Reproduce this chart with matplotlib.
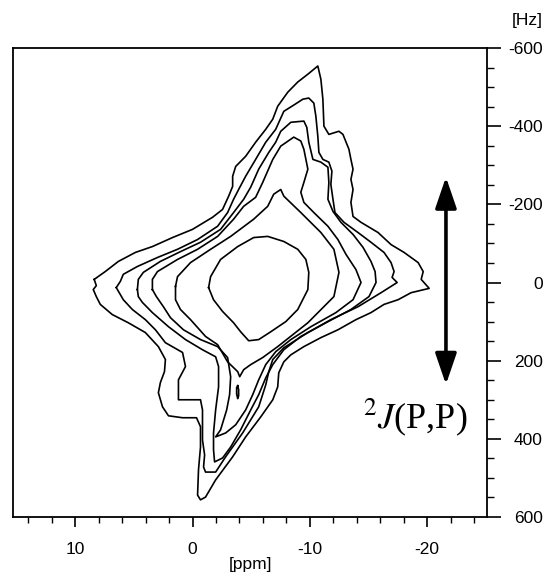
import matplotlib
matplotlib.use('Agg')
import matplotlib.pyplot as plt
from matplotlib.ticker import MultipleLocator
from matplotlib.patches import FancyArrowPatch

plt.rcParams['font.family'] = ['Liberation Sans', 'DejaVu Sans']
plt.rcParams['axes.unicode_minus'] = False
plt.rcParams['mathtext.fontset'] = 'stix'

# contour outlines: (ppm, Hz)
c1_ppm = [8.38, 7.44, 6.32, 4.87, 3.42, 1.71, 0.0, -1.71, -2.56, -3.08, -3.42, -3.42, -3.68, -4.53,
          -5.38, -6.24, -6.84, -7.26, -8.12, -8.97, -9.83, -10.68, -10.94, -11.11, -11.2, -11.62,
          -12.48, -12.82, -13.33, -13.5, -13.68, -13.5, -13.68, -13.5, -13.68, -14.36, -15.81,
          -16.92, -18.03, -19.23, -19.66, -19.49, -20.17, -18.63, -17.52, -16.32, -15.21, -13.93,
          -12.39, -10.94, -9.49, -8.38, -7.78, -7.35, -7.26, -6.84, -5.81, -4.53, -3.42, -1.97,
          -1.11, -0.68, -0.43, -0.51, -0.68, -0.68, -0.34, 0.85, 2.05, 2.56, 2.91, 2.74, 2.39,
          2.31, 2.91, 4.02, 5.47, 6.84, 7.86, 8.2, 8.46, 8.2]
c1_hz = [-8, -28, -54, -77, -92, -115, -136, -167, -187, -221, -246, -272, -297, -323,
         -359, -392, -418, -451, -487, -513, -533, -554, -520, -469, -400, -379,
         -387, -379, -341, -315, -290, -264, -238, -205, -169, -154, -128,
         -97, -77, -51, -28, -8, 15, 26, 44, 56, 77, 95,
         121, 141, 164, 185, 203, 231, 267, 300, 344, 395, 446, 505,
         549, 556, 544, 479, 421, 369, 346, 346, 341, 318, 282, 256, 228,
         197, 164, 128, 103, 82, 56, 36, 18, 8]

c2_ppm = [6.5, 6.15, 5.9, 4.7, 2.99, 1.28, -0.43, -2.14, -2.99, -3.5, -3.93, -4.53, -5.38, -6.24,
          -7.09, -7.78, -8.63, -9.4, -9.91, -10.34, -10.51, -10.68, -10.77, -11.11, -11.62, -11.88,
          -11.79, -11.97, -12.14, -12.91, -14.1, -15.21, -16.32, -16.92, -17.18, -17.01, -17.44,
          -16.07, -14.1, -11.79, -9.83, -7.78, -6.84, -6.5, -6.24, -5.64, -4.27, -2.82, -1.97,
          -1.11, -0.94, -1.03, -0.85, -0.85, -0.68, 1.2, 1.2, 0.6, 0.85, 2.31, 3.16, 4.02, 5.13,
          5.9, 6.15]
c2_hz = [13, -3, -21, -41, -64, -85, -110, -144, -179, -213, -238, -272, -315, -359,
         -392, -438, -454, -469, -472, -459, -426, -374, -333, -315, -308, -285,
         -251, -213, -179, -154, -128, -103, -77, -51, -28, -13, 0,
         26, 62, 95, 128, 167, 197, 228, 262, 318, 385, 446, 485,
         485, 472, 441, 403, 326, 300, 300, 249, 215, 179, 154, 121, 95, 69,
         44, 31]

c3_ppm = [4.7, 4.62, 4.19, 2.74, 1.03, -0.68, -2.39, -3.5, -4.36, -4.96, -5.64, -6.5, -7.09, -7.52,
          -8.38, -9.49, -9.74, -9.91, -10.26, -10.94, -11.54, -11.62, -11.54, -11.97, -12.65,
          -13.68, -14.53, -15.21, -15.56, -15.64, -15.04, -13.5, -11.37, -9.23, -7.78, -6.84,
          -6.24, -5.64, -4.96, -4.1, -3.25, -2.56, -1.88, -1.79, -1.79, -1.97, -2.22, -2.22,
          -1.97, -0.85, 0.6, 2.05, 3.42, 4.27, 4.62]
c3_hz = [18, -8, -26, -54, -79, -103, -136, -179, -213, -244, -290, -333, -359, -387,
         -410, -413, -397, -359, -315, -308, -295, -256, -213, -182, -154,
         -123, -90, -54, -28, 0, 36, 69, 103, 138, 172, 210,
         244, 287, 326, 377, 421, 449, 459, 428, 385, 326, 267, 215,
         190, 172, 146, 113, 77, 51, 36]

c4_ppm = [3.42, 3.42, 2.99, 1.28, -0.43, -2.14, -3.5, -4.36, -5.38, -5.98, -6.84, -7.52, -8.63,
          -9.23, -9.49, -9.83, -9.49, -9.23, -9.49, -10.34, -11.54, -12.39, -13.08, -13.93,
          -14.36, -13.68, -12.22, -10.09, -8.38, -7.09, -6.24, -5.64, -5.13, -4.53, -3.68,
          -2.82, -1.97, -2.39, -2.91, -3.16, -3.25, -2.99, -2.14, -0.68, 0.77, 1.88, 2.48, 3.08]
c4_hz = [18, -8, -28, -59, -85, -118, -162, -195, -218, -256, -315, -349, -372,
         -362, -341, -290, -256, -231, -205, -179, -144, -110, -72, -33,
         0, 44, 77, 113, 146, 177, 210, 249, 287, 326, 364,
         385, 395, 377, 326, 287, 241, 192, 164, 146, 121, 90, 62, 36]

c5_ppm = [1.45, 1.28, 0.17, -1.54, -3.25, -5.21, -6.41, -6.92, -7.52, -7.78, -9.23, -10.94,
          -12.05, -12.48, -12.05, -9.83, -7.26, -5.98, -4.96, -4.36, -4.02, -3.85, -2.99,
          -2.14, -1.11, 0.17, 1.03, 1.45]
c5_hz = [10, -15, -51, -85, -118, -162, -195, -226, -238, -221, -179, -128,
         -85, -26, 36, 103, 164, 192, 210, 223, 241, 228, 203,
         159, 138, 95, 69, 44]

c6_ppm = [-1.37, -1.54, -2.39, -3.85, -5.21, -6.41, -7.78, -8.97, -9.66, -9.91, -9.83, -8.97,
          -7.95, -6.67, -5.64, -4.79, -4.1, -3.5, -2.56, -1.79]
c6_hz = [13, -15, -59, -92, -115, -118, -105, -85, -59, -26, 18, 69,
         100, 126, 146, 149, 126, 103, 74, 44]

c7_ppm = [-3.85, -3.93, -3.93, -3.85, -3.76, -3.76]
c7_hz = [264, 274, 290, 297, 285, 269]

contours = [(c1_ppm, c1_hz), (c2_ppm, c2_hz), (c3_ppm, c3_hz),
            (c4_ppm, c4_hz), (c5_ppm, c5_hz), (c6_ppm, c6_hz), (c7_ppm, c7_hz)]

fig = plt.figure(figsize=(5.49, 5.73), dpi=100)
ax = fig.add_axes([0.0237, 0.0977, 0.8634, 0.8185])

for xs, ys in contours:
    ax.plot(list(xs) + [xs[0]], list(ys) + [ys[0]], color='black', lw=1.2)

arrow = FancyArrowPatch((-21.6, -277), (-21.6, 268),
                        arrowstyle='<|-|>,head_length=1.9,head_width=0.65',
                        mutation_scale=10, lw=2.6, color='black')
ax.add_patch(arrow)
ax.text(-14.5, 372, r'$^{2}J$(P,P)', fontsize=26, ha='left', va='baseline',
        family=['Liberation Serif', 'DejaVu Serif'])

ax.set_xlim(15.3, -25.1)
ax.set_ylim(600, -600)

ax.xaxis.set_major_locator(MultipleLocator(10))
ax.xaxis.set_minor_locator(MultipleLocator(2))
ax.yaxis.set_major_locator(MultipleLocator(200))
ax.yaxis.set_minor_locator(MultipleLocator(50))

ax.yaxis.tick_right()
ax.tick_params(axis='x', which='major', direction='out', length=7, width=1.2, labelsize=12.5, pad=11)
ax.tick_params(axis='x', which='minor', direction='out', length=4, width=1.0)
ax.tick_params(axis='y', which='major', direction='out', length=10, width=1.2, labelsize=12.5, pad=30)
ax.tick_params(axis='y', which='minor', direction='out', length=5, width=1.0)
for lab in ax.get_yticklabels():
    lab.set_horizontalalignment('right')

for sp in ax.spines.values():
    sp.set_linewidth(1.3)

ax.set_xlabel('[ppm]', fontsize=12.5, labelpad=0)
fig.text(0.96, 0.965, '[Hz]', fontsize=12.5, ha='center', va='center')

plt.savefig('out.png', dpi=100)
